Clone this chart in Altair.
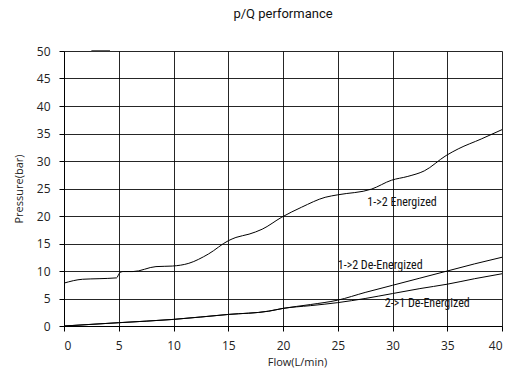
import altair as alt
import pandas as pd

# Data
energized_x = [0, 1.7, 3.2, 4.8, 5.06, 5.4, 6.3, 8.4, 9.9, 11.4, 13.2, 15.0, 15.7, 16.9,
               18.1, 19.9, 21.7, 23.85, 25.0, 28.1, 29.9, 31.4, 32.9, 34.9, 36.0, 38.1, 40.0]
energized_y = [7.8, 8.5, 8.6, 8.75, 9.6, 9.9, 9.9, 10.8, 10.9, 11.4, 13.1, 15.5, 16.1, 16.7,
               17.6, 19.8, 21.6, 23.4, 23.85, 24.9, 26.5, 27.2, 28.2, 31.0, 32.2, 34.0, 35.7]

deen12_x = [0, 5, 10, 15, 18.7, 20, 22.5, 25, 27.5, 30, 32.5, 35, 37.5, 40]
deen12_y = [0, 0.6, 1.2, 2.1, 2.7, 3.2, 3.9, 4.7, 6.1, 7.4, 8.7, 10.0, 11.3, 12.5]

deen21_x = [0, 5, 10, 15, 18.7, 20, 22.5, 25, 27.5, 30, 32.5, 35, 37.5, 40]
deen21_y = [0, 0.6, 1.2, 2.1, 2.7, 3.2, 3.7, 4.25, 5.0, 5.9, 6.8, 7.6, 8.6, 9.5]

mark_x = [2.5, 4.2]
mark_y = [50, 50]

label_text = ["1->2 Energized", "1->2 De-Energized", "2->1 De-Energized"]
label_x = [27.7, 25.0, 29.3]
label_y = [22.5, 11.1, 4.1]

x_ticks = list(range(0, 41, 5))
y_ticks = list(range(0, 51, 5))

rows = []
for name, xs, ys in [("1->2 Energized", energized_x, energized_y),
                     ("1->2 De-Energized", deen12_x, deen12_y),
                     ("2->1 De-Energized", deen21_x, deen21_y)]:
    for i, (a, b) in enumerate(zip(xs, ys)):
        rows.append({"series": name, "flow": a, "pressure": b, "order": i})
df = pd.DataFrame(rows)
df_mark = pd.DataFrame({"flow": mark_x, "pressure": mark_y})
df_lab = pd.DataFrame({"text": label_text, "flow": label_x, "pressure": label_y})

x_enc = alt.X("flow:Q", scale=alt.Scale(domain=[0, 40], nice=False),
              axis=alt.Axis(title="Flow(L/min)", values=x_ticks, titleX=233, labelOverlap=False))
y_enc = alt.Y("pressure:Q", scale=alt.Scale(domain=[0, 50], nice=False),
              axis=alt.Axis(title="Pressure(bar)", values=y_ticks, labelOverlap=False))

lines = alt.Chart(df).mark_line(color="black", strokeWidth=1, interpolate="monotone").encode(
    x=x_enc, y=y_enc, detail="series:N", order="order:Q")

mark = alt.Chart(df_mark).mark_line(color="#333", strokeWidth=1.6).encode(x=x_enc, y=y_enc)

labels = alt.Chart(df_lab).mark_text(align="left", baseline="middle", fontSize=12,
                                     font="Roboto Condensed, Liberation Sans Narrow, Roboto",
                                     color="#111").encode(
    x=x_enc, y=y_enc, text="text:N")

chart = alt.layer(lines, mark, labels).properties(
    width=438, height=275,
    title=alt.TitleParams("p/Q performance", font="Roboto", fontSize=13, fontWeight="normal",
                          color="#111", anchor="middle", offset=24),
    autosize=alt.AutoSizeParams(type="none"),
    padding={"left": 56, "top": 43, "right": 2, "bottom": 47},
).configure_view(stroke=None).configure_axis(
    grid=True, gridColor="#000", gridOpacity=0.85, gridWidth=1,
    domainColor="#000", tickColor="#000", tickSize=5,
    labelFont="Open Sans", labelFontSize=12, labelColor="#222",
    titleFont="Open Sans", titleFontSize=11, titleFontWeight="normal", titleColor="#222",
).configure_axisY(labelPadding=9, titlePadding=12).configure_axisX(labelPadding=9, titlePadding=5)

chart.save("out.html", embed_options={"renderer": "svg", "actions": False})
